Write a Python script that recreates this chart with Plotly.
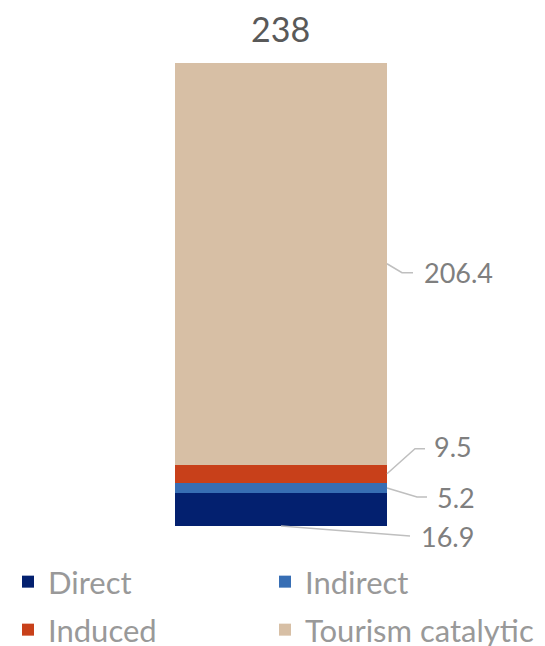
import plotly.graph_objects as go

categories = ["Direct", "Indirect", "Induced", "Tourism catalytic"]
values = [16.9, 5.2, 9.5, 206.4]
colors = ["#03206F", "#376EB4", "#C8401A", "#D7BFA5"]
total = 238

FONT = "Lato"
LABEL_COLOR = "#7F7F7F"
LINE_COLOR = "#BFBFBF"

# page body has an 8px margin, so the figure is sized to fit the window
W, H = 537, 638

legend_ids = ["legend", "legend2", "legend3", "legend4"]

fig = go.Figure()
for name, v, c, lg in zip(categories, values, colors, legend_ids):
    fig.add_trace(go.Bar(
        x=[0], y=[v], name=name, marker=dict(color=c, line=dict(width=0)),
        width=1, hoverinfo="skip", legend=lg,
    ))

# label leader geometry (pixel offsets from anchor on bar)
cum = [sum(values[:i]) for i in range(len(values))]
mids = [cum[i] + values[i] / 2 for i in range(len(values))]
specs = [
    # (x anchor, y anchor, yref, path pts px, text offset px)
    (0.0, 0.0, "paper", [(0, 0), (129, -10)], (138, -10)),
    (0.5, mids[1], "y", [(0, 0), (30, -9), (40, -9)], (48, -9)),
    (0.5, mids[2], "y", [(0, 0), (28, 25), (38, 25)], (45, 27)),
    (0.5, mids[3], "y", [(0, 0), (15, -9), (26, -9)], (35, -9)),
]
for (ax, ay, yref, pts, toff), v in zip(specs, values):
    path = "M " + " L ".join(f"{px},{py}" for px, py in pts)
    fig.add_shape(type="path", xref="x", yref=yref, xsizemode="pixel", ysizemode="pixel",
                  xanchor=ax, yanchor=ay, path=path,
                  line=dict(color=LINE_COLOR, width=1.5))
    fig.add_annotation(x=ax, y=ay, xref="x", yref=yref, text=f"{v:g}", showarrow=False,
                       xanchor="left", yanchor="middle", xshift=toff[0], yshift=toff[1],
                       font=dict(family=FONT, size=27, color=LABEL_COLOR))

fig.add_annotation(x=0, y=total, xref="x", yref="y", text=str(total), showarrow=False,
                   xanchor="center", yanchor="bottom", yshift=12,
                   font=dict(family=FONT, size=34, color="#595959"))

legend_common = dict(orientation="h", xanchor="left", yanchor="middle",
                     xref="container", yref="container",
                     font=dict(family=FONT, size=31, color="#999999"),
                     bgcolor="rgba(0,0,0,0)", itemclick=False, itemdoubleclick=False)

col_x = [0, 257 / W]
row_y = [1 - 574 / H, 1 - 622 / H]
legend_layout = {}
for i, lg in enumerate(legend_ids):
    legend_layout[lg] = dict(**legend_common, x=col_x[i % 2], y=row_y[i // 2])

fig.update_layout(
    width=W, height=H, autosize=False,
    margin=dict(l=0, r=0, t=55, b=120),
    barmode="stack",
    paper_bgcolor="white", plot_bgcolor="white",
    showlegend=True,
    xaxis=dict(range=[-1.2877, 1.2453], visible=False, fixedrange=True),
    yaxis=dict(range=[0, total], visible=False, fixedrange=True),
    font=dict(family=FONT),
    **legend_layout,
)

fig.write_html("out.html")
